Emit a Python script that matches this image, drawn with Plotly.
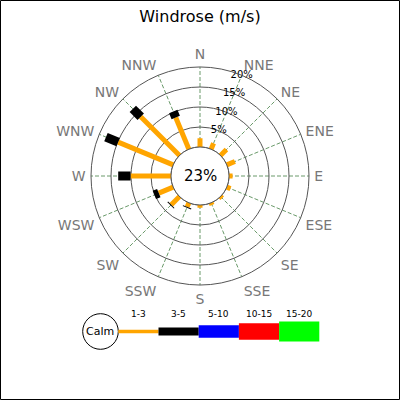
import plotly.graph_objects as go

# ---- data ----
directions = ["N", "NNE", "NE", "ENE", "E", "ESE", "SE", "SSE",
              "S", "SSW", "SW", "WSW", "W", "WNW", "NW", "NNW"]
calm_pct = 23
speed_labels = ["1-3", "3-5", "5-10", "10-15", "15-20"]
speed_colors = ["orange", "black", "blue", "red", "lime"]
freq_1_3 = [2.2, 1.6, 2.1, 2.2, 0.9, 1.0, 0.6, 0.6, 0.7, 1.1, 2.9, 3.9, 10.1, 14.9, 13.7, 8.6]
freq_3_5 = [0, 0, 0, 0, 0, 0, 0, 0, 0, 0.25, 0.25, 1.2, 3.1, 3.3, 2.8, 1.6]
freq_5_10 = [0] * 16
freq_10_15 = [0] * 16
freq_15_20 = [0] * 16
ring_ticks = [5, 10, 15, 20]

series = [freq_1_3, freq_3_5, freq_5_10, freq_10_15, freq_15_20]
bar_widths = [5, 9, 12, 16, 20]
legend_widths = [3.5, 8, 12.5, 16.5, 20]

W = H = 400
CX, CY, R = 200, 176, 109
FONT = "DejaVu Sans"

angles = [i * 360 / len(directions) for i in range(len(directions))]

fig = go.Figure()

# calm circle (inner edge of rose)
circ_theta = [i for i in range(0, 361, 2)]
fig.add_trace(go.Scatterpolar(r=[0] * len(circ_theta), theta=circ_theta, mode="lines",
                              line=dict(color="#555555", width=1), hoverinfo="skip",
                              showlegend=False))

# stacked segments with constant pixel width
cum = [0.0] * len(directions)
for vals, col, w in zip(series, speed_colors, bar_widths):
    rr, tt = [], []
    for i, v in enumerate(vals):
        if v > 0:
            rr += [cum[i], cum[i] + v, None]
            tt += [angles[i], angles[i], None]
            cum[i] += v
    if rr:
        fig.add_trace(go.Scatterpolar(r=rr, theta=tt, mode="lines",
                                      line=dict(color=col, width=w),
                                      connectgaps=False, hoverinfo="skip",
                                      showlegend=False))

# ring labels along NNE spoke
fig.add_trace(go.Scatterpolar(r=ring_ticks, theta=[angles[1]] * len(ring_ticks),
                              mode="text", text=[f"{t}%" for t in ring_ticks],
                              textfont=dict(family=FONT, size=10, color="black"),
                              textposition="middle center", hoverinfo="skip",
                              showlegend=False))

fig.update_layout(
    width=W, height=H,
    margin=dict(l=0, r=0, t=0, b=0),
    paper_bgcolor="white",
    plot_bgcolor="white",
    font=dict(family=FONT),
    title=dict(text="Windrose (m/s)", x=0.5, xanchor="center", y=1 - 16 / H,
               yanchor="middle", font=dict(family=FONT, size=16, color="black")),
    polar=dict(
        domain=dict(x=[(CX - R) / W, (CX + R) / W],
                    y=[(H - CY - R) / H, (H - CY + R) / H]),
        hole=29 / R,
        bgcolor="white",
        radialaxis=dict(range=[0, 20], tickvals=ring_ticks, showticklabels=False,
                        ticks="", showline=False, gridcolor="#555555", gridwidth=1),
        angularaxis=dict(rotation=90, direction="clockwise",
                         tickvals=angles, ticktext=directions,
                         tickfont=dict(family=FONT, size=14, color="#777777"),
                         ticks="outside", ticklen=2, tickcolor="rgba(0,0,0,0)",
                         showline=True, linecolor="#555555", linewidth=1,
                         gridcolor="#6a9a6a", griddash="4px,2px", gridwidth=1),
    ),
)

shapes = []
annotations = []

# calm percentage in centre
annotations.append(dict(x=CX / W, y=(H - CY) / H, xref="paper", yref="paper",
                        xanchor="center", yanchor="middle",
                        text=f"{calm_pct}%", showarrow=False,
                        font=dict(family=FONT, size=15, color="black")))

# legend
LY = 331.5
calm_cx, calm_r = 100.5, 17.8
shapes.append(dict(type="circle", xref="paper", yref="paper",
                   x0=(calm_cx - calm_r) / W, x1=(calm_cx + calm_r) / W,
                   y0=(H - LY - calm_r) / H, y1=(H - LY + calm_r) / H,
                   line=dict(color="black", width=1), fillcolor="white"))
annotations.append(dict(x=calm_cx / W, y=(H - LY) / H, xref="paper", yref="paper",
                        xanchor="center", yanchor="middle",
                        text="Calm", showarrow=False,
                        font=dict(family=FONT, size=11, color="black")))
x_start = calm_cx + calm_r
seg = 40.2
for k, (lab, col, lw) in enumerate(zip(speed_labels, speed_colors, legend_widths)):
    x0 = x_start + k * seg
    x1 = x0 + seg
    shapes.append(dict(type="rect", xref="paper", yref="paper",
                       x0=x0 / W, x1=x1 / W,
                       y0=(H - LY - lw / 2) / H, y1=(H - LY + lw / 2) / H,
                       line=dict(width=0), fillcolor=col))
    annotations.append(dict(x=(x0 + x1) / 2 / W, y=(H - 314) / H, xref="paper", yref="paper",
                            xanchor="center", yanchor="middle",
                            text=lab, showarrow=False,
                            font=dict(family=FONT, size=9, color="black")))

# outer border
shapes.append(dict(type="rect", xref="paper", yref="paper",
                   x0=0.5 / W, x1=1 - 0.5 / W, y0=0.5 / H, y1=1 - 0.5 / H,
                   line=dict(color="black", width=1)))

fig.update_layout(shapes=shapes, annotations=annotations)
fig.write_html("out.html",
               config={"displayModeBar": False, "staticPlot": True},
               post_script="document.body.style.margin='0';document.body.style.overflow='hidden';")
